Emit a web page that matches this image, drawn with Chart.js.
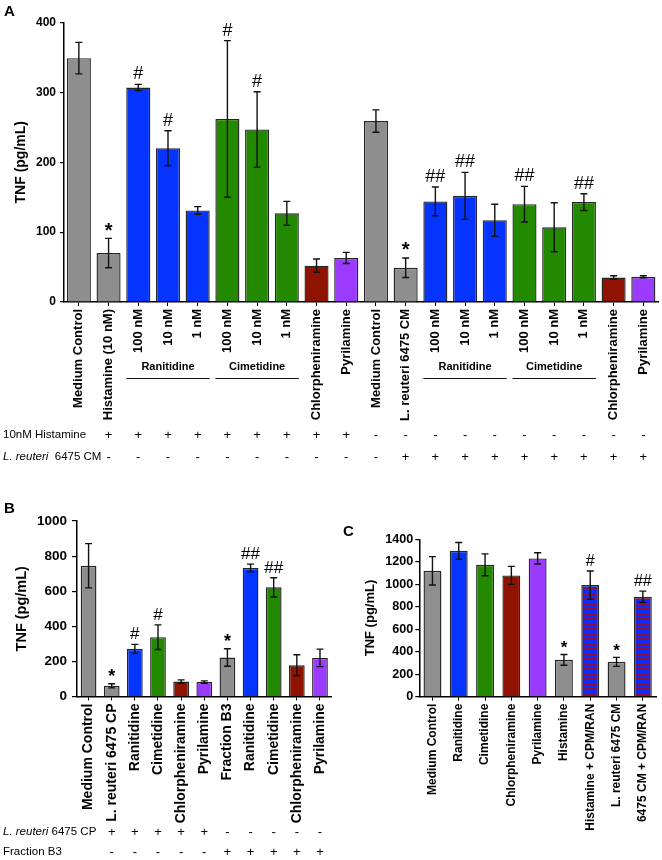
<!DOCTYPE html>
<html><head><meta charset="utf-8">
<script src="https://cdn.jsdelivr.net/npm/chart.js@4.4.1/dist/chart.umd.min.js"></script>
<style>
html,body{margin:0;padding:0;background:#fff;}
#wrap{position:relative;width:662px;height:860px;overflow:hidden;background:#fff;}
canvas{position:absolute;}
</style></head><body>
<div id="wrap">
<canvas id="cA" width="662" height="475" style="left:0;top:0;width:662px;height:475px"></canvas>
<canvas id="cB" width="340" height="370" style="left:0;top:490px;width:340px;height:370px"></canvas>
<canvas id="cC" width="324" height="370" style="left:338px;top:490px;width:324px;height:370px"></canvas>
</div>
<script>
// ---------- DATA ----------
const catsA = ['Medium Control','Histamine (10 nM)','100 nM','10 nM','1 nM','100 nM','10 nM','1 nM','Chlorpheniramine','Pyrilamine',
               'Medium Control','L. reuteri 6475 CM','100 nM','10 nM','1 nM','100 nM','10 nM','1 nM','Chlorpheniramine','Pyrilamine'];
const valsA = [349, 70, 307, 220, 131, 262, 247, 127, 52, 63, 259, 49, 144, 152, 117, 140, 107, 143, 35, 36];
const semA  = [22.5, 21, 4.5, 25, 5.5, 112, 54, 17, 9.5, 8, 16, 14, 20.5, 33.5, 23, 25.5, 35, 12, 2.5, 1.5];
const sigA  = ['', '*', '#', '#', '', '#', '#', '', '', '', '', '*', '##', '##', '', '##', '', '##', '', ''];
const typeA = ['gray','gray','blue','blue','blue','green','green','green','red','purple',
               'gray','gray','blue','blue','blue','green','green','green','red','purple'];
const rowNamesA = ['10nM Histamine', 'L. reuteri  6475 CM'];
const rowHistA = ['', '+','+','+','+','+','+','+','+','+', '-','-','-','-','-','-','-','-','-','-'];
const rowLrA   = ['', '-','-','-','-','-','-','-','-','-', '-','+','+','+','+','+','+','+','+','+'];
const groupsA = [['Ranitidine', 2, 4], ['Cimetidine', 5, 7], ['Ranitidine', 12, 14], ['Cimetidine', 15, 17]];

const catsB = ['Medium Control','L. reuteri 6475 CP','Ranitidine','Cimetidine','Chlorpheniramine','Pyrilamine',
               'Fraction B3','Ranitidine','Cimetidine','Chlorpheniramine','Pyrilamine'];
const valsB = [745, 61, 272, 338, 85, 82, 222, 732, 622, 178, 220];
const semB  = [126, 12, 25, 70, 10, 7, 50, 22, 55, 60, 50];
const sigB  = ['', '*', '#', '#', '', '', '*', '##', '##', '', ''];
const typeB = ['gray','gray','blue','green','red','purple','gray','blue','green','red','purple'];
const rowNamesB = ['L. reuteri 6475 CP', 'Fraction B3'];
const rowLrB  = ['', '+','+','+','+','+', '-','-','-','-','-'];
const rowFrB  = ['', '-','-','-','-','-', '+','+','+','+','+'];

const catsC = ['Medium Control','Ranitidine','Cimetidine','Chlorpheniramine','Pyrilamine','Histamine',
               'Histamine + CPM/RAN','L. reuteri 6475 CM','6475 CM + CPM/RAN'];
const valsC = [1120, 1298, 1173, 1079, 1230, 328, 993, 310, 889];
const semC  = [126, 74, 97, 80, 50, 48, 125, 40, 50];
const sigC  = ['', '', '', '', '', '*', '#', '*', '##'];
const typeC = ['gray','blue','green','red','purple','gray','stripe','gray','stripe'];

// ---------- STYLE ----------
const FONT = "'Liberation Sans', Arial, sans-serif";
const COLORS = {gray:'#8e8e8e', blue:'#0634ff', green:'#238a00', red:'#8f1300', purple:'#9a3bff'};
function stripePattern(){
  const c = document.createElement('canvas'); c.width = 4; c.height = 5;
  const g = c.getContext('2d');
  g.fillStyle = '#0a2cff'; g.fillRect(0,0,4,3);
  g.fillStyle = '#8a1240'; g.fillRect(0,3,4,2);
  return g.createPattern(c, 'repeat');
}
const STRIPE = stripePattern();
const colorOf = t => t === 'stripe' ? STRIPE : COLORS[t];

const extras = {
  id: 'extras',
  afterDatasetsDraw(chart, args, o) {
    const ctx = chart.ctx, y = chart.scales.y, meta = chart.getDatasetMeta(0);
    ctx.save();
    ctx.strokeStyle = '#111'; ctx.lineWidth = 1.4;
    meta.data.forEach((bar, i) => {
      const v = o.values[i], s = o.sem[i];
      const yt = y.getPixelForValue(v + s), yb = y.getPixelForValue(v - s);
      const cx = bar.x, hw = o.cap / 2;
      ctx.beginPath();
      ctx.moveTo(cx, yt); ctx.lineTo(cx, yb);
      ctx.moveTo(cx - hw, yt); ctx.lineTo(cx + hw, yt);
      ctx.moveTo(cx - hw, yb); ctx.lineTo(cx + hw, yb);
      ctx.stroke();
      const m = o.sig[i];
      if (m) {
        ctx.fillStyle = '#000'; ctx.textAlign = 'center'; ctx.textBaseline = 'alphabetic';
        if (m === '*') { ctx.font = o.starFont; ctx.fillText(m, cx, yt + o.starGap); }
        else { ctx.font = o.hashFont; ctx.fillText(m, cx, yt - o.hashGap); }
      }
    });
    // groups
    if (o.groups) {
      ctx.font = 'bold 11px ' + FONT; ctx.textAlign = 'center'; ctx.textBaseline = 'middle';
      ctx.fillStyle = '#000'; ctx.lineWidth = 1;
      o.groups.forEach(([t, a, b]) => {
        const ba = meta.data[a], bb = meta.data[b];
        const x0 = ba.x - ba.width / 2, x1 = bb.x + bb.width / 2;
        ctx.fillText(t, (x0 + x1) / 2, o.groupTextY);
        ctx.beginPath(); ctx.moveTo(x0, o.groupLineY + 0.5); ctx.lineTo(x1, o.groupLineY + 0.5); ctx.stroke();
      });
    }
    // +/- rows
    o.rows.forEach((r, k) => {
      const yy = o.rowY[k];
      ctx.textBaseline = 'middle'; ctx.textAlign = 'left'; ctx.fillStyle = '#000';
      const name = o.rowNames[k];
      if (name.startsWith('L. reuteri')) {
        ctx.font = 'italic ' + o.rowFont;
        ctx.fillText('L. reuteri', 3, yy);
        const w = ctx.measureText('L. reuteri').width;
        ctx.font = o.rowFont;
        ctx.fillText(name.slice('L. reuteri'.length), 3 + w, yy);
      } else {
        ctx.font = o.rowFont;
        ctx.fillText(name, 3, yy);
      }
      ctx.textAlign = 'center'; ctx.font = o.symFont;
      r.forEach((s, i) => { if (s) ctx.fillText(s, meta.data[i].x, yy); });
    });
    // panel letter
    ctx.font = 'bold 15px ' + FONT; ctx.textAlign = 'left'; ctx.textBaseline = 'alphabetic';
    ctx.fillText(o.letter, o.letterX, o.letterY);
    ctx.restore();
  }
};

function makeChart(id, cfg) {
  const yW = cfg.yWidth, xH = cfg.xHeight;
  return new Chart(document.getElementById(id), {
    type: 'bar',
    data: { labels: cfg.cats, datasets: [{
      data: cfg.vals,
      backgroundColor: cfg.types.map(colorOf),
      borderColor: '#262626', borderWidth: 1.4,
      barPercentage: cfg.barPct, categoryPercentage: 1
    }]},
    options: {
      responsive: false, animation: false, devicePixelRatio: 1,
      layout: { padding: { left: 0, right: cfg.padRight, top: cfg.padTop, bottom: 0 } },
      plugins: { legend: { display: false }, tooltip: { enabled: false }, extras: cfg.extras },
      scales: {
        x: {
          afterFit: s => { s.height = xH; },
          grid: { drawOnChartArea: false, drawTicks: true, tickLength: 4, offset: false, color: '#000', lineWidth: 1 },
          border: { display: true, color: '#000', width: 1.5 },
          ticks: { autoSkip: false, minRotation: 90, maxRotation: 90, padding: 3, color: '#000',
                   font: { family: FONT, size: cfg.xFont, weight: 'bold' } }
        },
        y: {
          min: 0, max: cfg.max,
          afterFit: s => { s.width = yW; },
          grid: { drawOnChartArea: false, drawTicks: true, tickLength: cfg.yTick, color: '#000', lineWidth: 1.2 },
          border: { display: true, color: '#000', width: 1.5 },
          ticks: { stepSize: cfg.step, padding: cfg.yPad, color: '#000',
                   callback: v => String(v),
                   font: { family: FONT, size: cfg.yFont, weight: 'bold' } },
          title: { display: true, text: 'TNF (pg/mL)', color: '#000',
                   font: { family: FONT, size: cfg.titleFont, weight: 'bold' },
                   padding: { top: cfg.titlePad, bottom: 0 } }
        }
      }
    },
    plugins: [extras]
  });
}

makeChart('cA', {
  cats: catsA, vals: valsA, types: typeA, barPct: 0.81, max: 400, step: 100,
  yWidth: 64, xHeight: 173, padRight: 3, padTop: 22.5, xFont: 13, yFont: 12, yTick: 4, yPad: 4,
  titleFont: 14, titlePad: 12.6,
  extras: { values: valsA, sem: semA, sig: sigA, cap: 7,
    starFont: 'bold 20px ' + FONT, starGap: -1.5, hashFont: '18px ' + FONT, hashGap: 5,
    groups: groupsA, groupTextY: 366.5, groupLineY: 378,
    rows: [rowHistA, rowLrA], rowNames: rowNamesA, rowY: [435, 457],
    rowFont: '11.5px ' + FONT, symFont: '13px ' + FONT, letter: 'A', letterX: 4, letterY: 16 }
});

makeChart('cB', {
  cats: catsB, vals: valsB, types: typeB, barPct: 0.68, max: 1000, step: 200,
  yWidth: 77, xHeight: 163.5, padRight: 5, padTop: 31, xFont: 14, yFont: 13.5, yTick: 5, yPad: 5,
  titleFont: 14.5, titlePad: 13,
  extras: { values: valsB, sem: semB, sig: sigB, cap: 7,
    starFont: 'bold 18px ' + FONT, starGap: -1.5, hashFont: '17px ' + FONT, hashGap: 5,
    rows: [rowLrB, rowFrB], rowNames: rowNamesB, rowY: [342, 362],
    rowFont: '11.5px ' + FONT, symFont: '13px ' + FONT, letter: 'B', letterX: 4, letterY: 23 }
});

makeChart('cC', {
  cats: catsC, vals: valsC, types: typeC, barPct: 0.68, max: 1400, step: 200,
  yWidth: 81.3, xHeight: 163.3, padRight: 6, padTop: 49.3, xFont: 12, yFont: 12.6, yTick: 4, yPad: 2,
  titleFont: 13, titlePad: 25,
  extras: { values: valsC, sem: semC, sig: sigC, cap: 7,
    starFont: 'bold 17px ' + FONT, starGap: -1.5, hashFont: '16px ' + FONT, hashGap: 5,
    rows: [], rowNames: [], rowY: [],
    rowFont: '11px ' + FONT, symFont: '12px ' + FONT, letter: 'C', letterX: 5, letterY: 46 }
});
</script>
</body></html>
